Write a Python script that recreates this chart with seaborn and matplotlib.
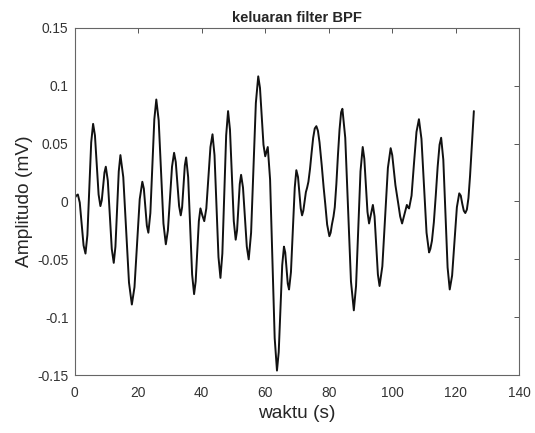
import matplotlib
matplotlib.use('Agg')
import matplotlib.pyplot as plt
import numpy   as np
import pandas  as pd
import seaborn as sns

# waktu (s) dan amplitudo (mV) dibaca dari gambar keluaran filter BPF
waktu = [
    0.0, 0.5, 1.0, 1.6, 2.2, 2.8, 3.4, 4.0, 4.6, 5.2,
    5.8, 6.38, 6.95, 7.53, 8.1, 8.53, 8.95, 9.38, 9.8, 10.43,
    11.05, 11.68, 12.3, 12.83, 13.35, 13.88, 14.4, 15.3, 16.2, 17.1,
    18.0, 18.83, 19.65, 20.48, 21.3, 21.78, 22.25, 22.73, 23.2, 23.83,
    24.45, 25.08, 25.7, 26.45, 27.2, 27.95, 28.7, 29.35, 30.0, 30.65,
    31.3, 31.83, 32.35, 32.88, 33.4, 33.83, 34.25, 34.68, 35.1, 35.73,
    36.35, 36.98, 37.6, 38.1, 38.6, 39.1, 39.6, 40.2, 40.8, 41.45,
    42.1, 42.75, 43.4, 44.03, 44.65, 45.28, 45.9, 46.5, 47.1, 47.7,
    48.3, 48.9, 49.5, 50.1, 50.7, 51.13, 51.55, 51.98, 52.4, 53.0,
    53.6, 54.2, 54.8, 55.55, 56.3, 57.05, 57.8, 58.35, 58.9, 59.45,
    60.0, 60.4, 60.8, 61.53, 62.25, 62.98, 63.7, 64.25, 64.8, 65.35,
    65.9, 66.3, 66.7, 67.1, 67.5, 68.1, 68.7, 69.3, 69.8, 70.33,
    70.75, 71.18, 71.6, 72.0, 72.4, 72.8, 73.2, 73.6, 74.1, 74.6,
    75.1, 75.6, 76.1, 76.6, 77.1, 77.8, 78.4, 78.9, 79.5, 80.2,
    80.6, 81.0, 81.5, 81.9, 82.4, 82.9, 83.4, 83.9, 84.3, 85.2,
    86.1, 87.0, 87.9, 88.6, 89.3, 90.0, 90.7, 91.2, 91.7, 92.2,
    92.7, 93.3, 93.9, 94.43, 94.95, 95.48, 96.0, 96.88, 97.75, 98.63,
    99.5, 100.0, 100.5, 101.0, 101.4, 101.9, 102.5, 103.1, 103.85, 104.6,
    104.95, 105.3, 106.08, 106.85, 107.63, 108.4, 109.2, 110.0, 110.8, 111.6,
    112.0, 112.5, 113.1, 113.7, 114.3, 114.9, 115.4, 116.08, 116.75, 117.43,
    118.1, 118.85, 119.6, 120.35, 121.1, 121.58, 122.05, 122.53, 123.0, 123.5,
    124.0, 124.5, 125.0, 125.4, 125.7,
]

amplitudo = [
    0.003, 0.005, 0.006, -0.001, -0.020, -0.038, -0.045, -0.029, 0.011, 0.051,
    0.067, 0.057, 0.032, 0.006, -0.004, 0.001, 0.013, 0.025, 0.030, 0.018,
    -0.012, -0.041, -0.053, -0.039, -0.007, 0.026, 0.040, 0.021, -0.025, -0.070,
    -0.089, -0.074, -0.036, 0.002, 0.017, 0.011, -0.005, -0.021, -0.027, -0.010,
    0.031, 0.071, 0.088, 0.070, 0.026, -0.019, -0.037, -0.025, 0.003, 0.030,
    0.042, 0.034, 0.015, -0.004, -0.012, -0.005, 0.013, 0.031, 0.038, 0.021,
    -0.021, -0.063, -0.080, -0.069, -0.043, -0.017, -0.006, -0.012, -0.017, -0.006,
    0.021, 0.047, 0.058, 0.040, -0.004, -0.048, -0.066, -0.045, 0.006, 0.057,
    0.078, 0.062, 0.023, -0.017, -0.033, -0.025, -0.005, 0.015, 0.023, 0.012,
    -0.014, -0.039, -0.050, -0.027, 0.029, 0.085, 0.108, 0.098, 0.074, 0.049,
    0.039, 0.043, 0.047, 0.019, -0.050, -0.118, -0.146, -0.130, -0.093, -0.055,
    -0.039, -0.044, -0.058, -0.071, -0.076, -0.061, -0.025, 0.012, 0.027, 0.021,
    0.008, -0.006, -0.012, -0.008, 0.000, 0.008, 0.012, 0.017, 0.028, 0.042,
    0.055, 0.063, 0.065, 0.061, 0.051, 0.031, 0.012, -0.002, -0.020, -0.030,
    -0.027, -0.020, -0.013, -0.005, 0.015, 0.040, 0.062, 0.077, 0.080, 0.055,
    -0.007, -0.069, -0.094, -0.073, -0.024, 0.026, 0.047, 0.037, 0.014, -0.009,
    -0.019, -0.011, -0.003, -0.013, -0.038, -0.063, -0.073, -0.056, -0.014, 0.029,
    0.046, 0.040, 0.027, 0.014, 0.007, -0.002, -0.013, -0.019, -0.011, -0.003,
    -0.005, -0.006, 0.005, 0.033, 0.060, 0.071, 0.054, 0.014, -0.027, -0.044,
    -0.041, -0.034, -0.018, 0.005, 0.030, 0.049, 0.055, 0.036, -0.011, -0.057,
    -0.076, -0.064, -0.035, -0.005, 0.007, 0.005, -0.002, -0.008, -0.010, -0.007,
    0.003, 0.022, 0.046, 0.065, 0.078,
]

x_ticks = [0, 20, 40, 60, 80, 100, 120, 140]
y_ticks = [-0.15, -0.1, -0.05, 0, 0.05, 0.1, 0.15]
y_tick_labels = ['-0.15', '-0.1', '-0.05', '0', '0.05', '0.1', '0.15']


def keluaran_bpf():
    df = pd.DataFrame({'waktu': waktu, 'amplitudo': amplitudo})

    sns.set_theme(style='white')
    plt.rcParams['font.family'] = ['Liberation Sans', 'DejaVu Sans']
    plt.rcParams['axes.unicode_minus'] = False

    fig = plt.figure(figsize=(5.35, 4.33), dpi=100)
    ax = fig.add_axes([0.1396, 0.1335, 0.831, 0.8025])

    sns.lineplot(data=df, x='waktu', y='amplitudo', ax=ax,
                 color='#111111', linewidth=1.4, estimator=None, sort=False)

    ax.set_xlim(0, 140)
    ax.set_ylim(-0.15, 0.15)
    ax.set_xticks(x_ticks)
    ax.set_yticks(y_ticks)
    ax.set_yticklabels(y_tick_labels)

    ax.tick_params(direction='in', length=3.5, width=0.7, colors='#555555',
                   labelcolor='#333333', labelsize=9.9, top=True, right=True)
    ax.tick_params(axis='y', pad=4.5)
    ax.tick_params(axis='x', pad=7.5)
    for s in ax.spines.values():
        s.set_color('#666666')
        s.set_linewidth(0.8)

    ax.set_xlabel('waktu (s)', fontsize=13.8, color='#262626', labelpad=4)
    ax.set_ylabel('Amplitudo (mV)', fontsize=13.8, color='#262626', labelpad=3)
    ax.set_title('keluaran filter BPF', fontsize=10.6, fontweight='bold',
                 color='#262626', pad=4)
    ax.grid(False)

    fig.savefig('out.png', dpi=100)


if __name__ == "__main__":
    keluaran_bpf()
